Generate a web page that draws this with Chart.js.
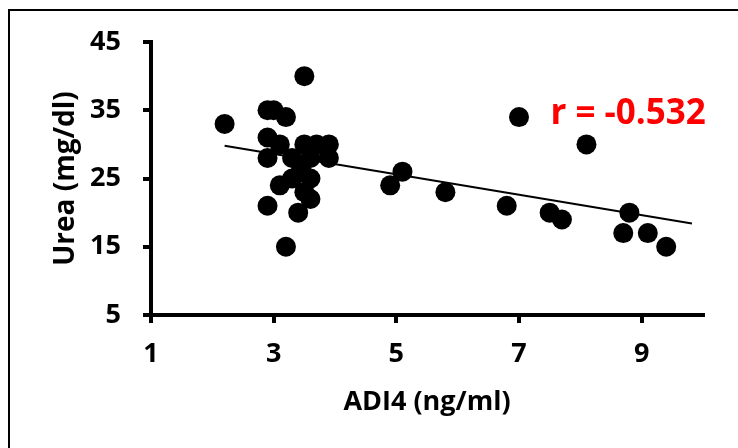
<!DOCTYPE html>
<html>
<head>
<meta charset="utf-8">
<script src="https://cdn.jsdelivr.net/npm/chart.js@4.4.1/dist/chart.umd.min.js"></script>
<style>
  body { margin: 0; background: #fff; }
  #wrap { position: relative; width: 738px; height: 448px; }
</style>
</head>
<body>
<div id="wrap"><canvas id="grafico" width="738" height="448"></canvas></div>
<script>
// datos
const adi4 = [2.2, 2.9, 3.0, 3.2, 2.9, 3.1, 2.9, 3.1, 2.9, 3.2, 3.5, 3.4, 3.6, 3.5, 3.6, 3.3, 3.3, 3.5, 3.7, 3.9, 3.9, 3.6, 3.45,
              4.9, 5.1, 5.8, 6.8, 7.0, 7.5, 7.7, 8.1, 8.8, 8.7, 9.1, 9.4];
const urea = [33, 35, 35, 34, 31, 30, 28, 24, 21, 15, 40, 20, 22, 23, 25, 25, 28, 30, 30, 30, 28, 28, 26.5,
              24, 26, 23, 21, 34, 20, 19, 30, 20, 17, 17, 15];

// recta de tendencia (extremos leidos)
const trendX = [2.2, 9.82];
const trendY = [29.8, 18.4];

const xTicks = [1, 3, 5, 7, 9];
const yTicks = [5, 15, 25, 35, 45];

const rTexto = "r = -0.532";
const rPos = [8.78, 34.4];

const fuente = "'Open Sans', 'DejaVu Sans', sans-serif";

const puntos = adi4.map((x, i) => ({ x: x, y: urea[i] }));
const recta = trendX.map((x, i) => ({ x: x, y: trendY[i] }));

// marco y texto de correlacion
const extras = {
    id: "extras",
    beforeDraw(chart) {
        const ctx = chart.ctx;
        ctx.save();
        ctx.fillStyle = "#fff";
        ctx.fillRect(0, 0, chart.width, chart.height);
        ctx.strokeStyle = "#000";
        ctx.lineWidth = 2;
        ctx.strokeRect(9, 10, 740, 450);
        ctx.restore();
    },
    afterDraw(chart) {
        const ctx = chart.ctx;
        const px = chart.scales.x.getPixelForValue(rPos[0]);
        const py = chart.scales.y.getPixelForValue(rPos[1]);
        ctx.save();
        ctx.fillStyle = "#ff0000";
        ctx.font = "bold 35px " + fuente;
        ctx.textAlign = "center";
        ctx.textBaseline = "middle";
        ctx.fillText(rTexto, px, py);
        ctx.restore();
    }
};

const ctx = document.getElementById("grafico").getContext("2d");
let chart = new Chart(ctx, {
    type: "scatter",
    data: {
        datasets: [{
            data: puntos,
            backgroundColor: "#000",
            borderWidth: 0,
            pointRadius: 10
        }, {
            data: recta,
            showLine: true,
            borderColor: "#000",
            borderWidth: 2,
            pointRadius: 0
        }]
    },
    options: {
        responsive: false,
        animation: false,
        layout: { padding: { top: 42, right: 35, bottom: 0, left: 0 } },
        plugins: {
            legend: { display: false },
            tooltip: { enabled: false }
        },
        scales: {
            x: {
                type: "linear",
                min: 1,
                max: 10,
                afterBuildTicks: s => { s.ticks = xTicks.map(v => ({ value: v })); },
                afterFit: s => { s.height = 448 - 315; },
                border: { display: true, color: "#000", width: 4 },
                grid: { drawOnChartArea: false, drawTicks: true, tickLength: 8, lineWidth: 4, color: "#000" },
                ticks: { color: "#000", padding: 15, autoSkip: false, maxRotation: 0, font: { family: fuente, size: 27, weight: "bold" } },
                title: { display: true, text: "ADI4 (ng/ml)", color: "#000", padding: { top: 0, bottom: 29 }, font: { family: fuente, size: 27, weight: "bold" } }
            },
            y: {
                type: "linear",
                min: 5,
                max: 45,
                afterBuildTicks: s => { s.ticks = yTicks.map(v => ({ value: v })); },
                afterFit: s => { s.width = 151; },
                border: { display: true, color: "#000", width: 4 },
                grid: { drawOnChartArea: false, drawTicks: true, tickLength: 8, lineWidth: 4, color: "#000" },
                ticks: { color: "#000", padding: 22, autoSkip: false, font: { family: fuente, size: 27, weight: "bold" } },
                title: { display: true, text: "Urea (mg/dl)", color: "#000", padding: { top: 49, bottom: 0 }, font: { family: fuente, size: 28, weight: "bold" } }
            }
        }
    },
    plugins: [extras]
});
</script>
</body>
</html>
